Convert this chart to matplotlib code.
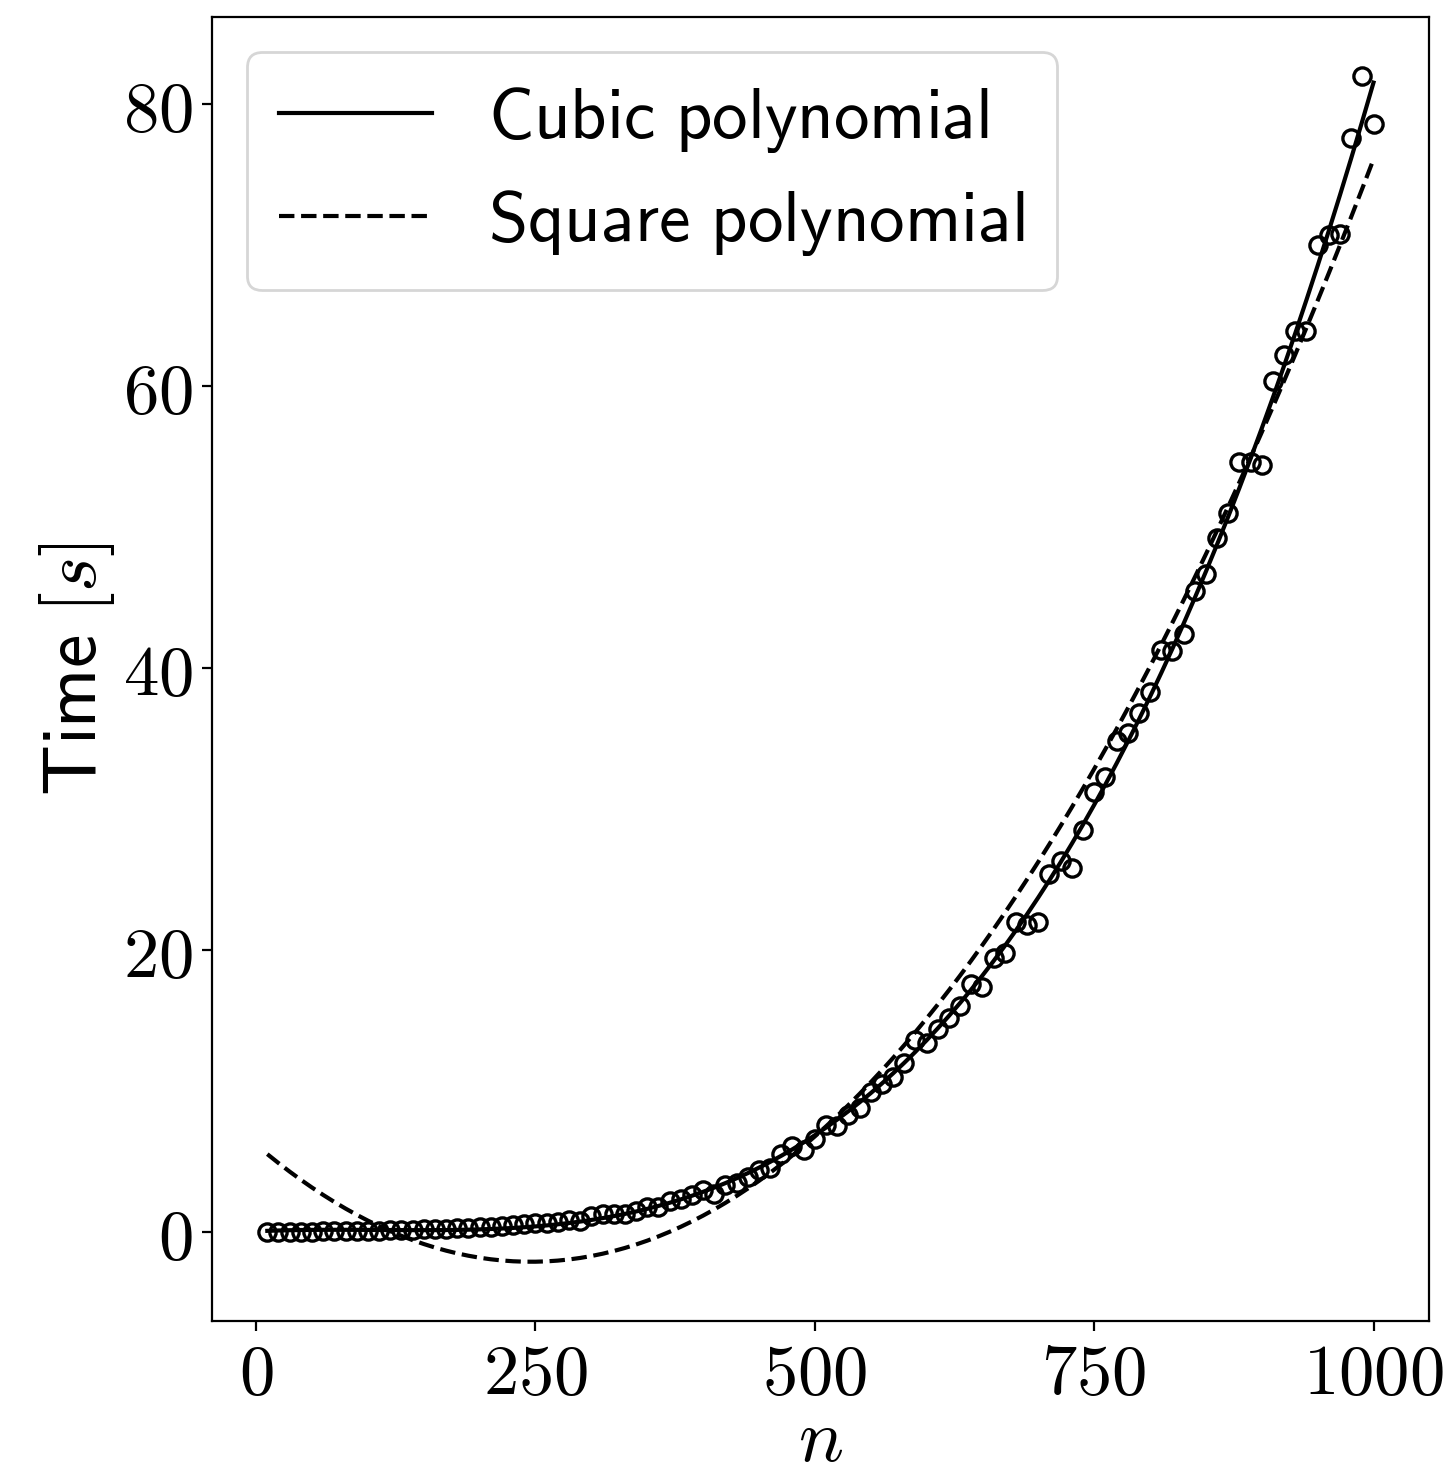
import numpy as np
from matplotlib import pyplot as plt

plt.rcParams['mathtext.fontset'] = 'cm'

# measured run times, n = 10, 20, ..., 1000
n = list(range(10, 1001, 10))
times = [0.0, 0.0, 0.01, 0.01, 0.02, 0.03, 0.04, 0.05, 0.06, 0.08,
         0.10, 0.12, 0.14, 0.16, 0.18, 0.20, 0.22, 0.25, 0.28, 0.32,
         0.36, 0.42, 0.50, 0.55, 0.60, 0.64, 0.70, 0.85, 0.80, 1.1,
         1.3, 1.3, 1.3, 1.5, 1.8, 1.8, 2.2, 2.3, 2.6, 3.0,
         2.7, 3.3, 3.5, 3.9, 4.4, 4.5, 5.5, 6.1, 5.8, 6.6,
         7.6, 7.5, 8.3, 8.8, 9.9, 10.5, 11.0, 12.0, 13.6, 13.4,
         14.4, 15.2, 16.0, 17.6, 17.4, 19.4, 19.8, 22.0, 21.8, 22.0,
         25.4, 26.3, 25.8, 28.5, 31.2, 32.3, 34.8, 35.4, 36.8, 38.3,
         41.3, 41.2, 42.4, 45.5, 46.7, 49.2, 51.0, 54.6, 54.6, 54.4,
         60.4, 62.2, 63.9, 63.9, 70.0, 70.7, 70.8, 77.6, 82.0, 78.6]

tick_x = [0, 250, 500, 750, 1000]
tick_y = [0, 20, 40, 60, 80]

x = np.array(n, dtype=float)
y = np.array(times)

# least squares fits
cubic = np.polyval(np.polyfit(x, y, 3), x)
square = np.polyval(np.polyfit(x, y, 2), x)

fig = plt.figure(figsize=(7.275, 7.365), dpi=200)
ax = fig.add_axes([0.1457, 0.1032, 0.8363, 0.8853])

ax.plot(x, y, 'o', markerfacecolor='none', markeredgecolor='k',
        markersize=6.2, markeredgewidth=1.2)
ax.plot(x, cubic, 'k-', linewidth=1.5, label=r'$\mathsf{Cubic\ polynomial}$')
ax.plot(x, square, 'k--', linewidth=1.5, label=r'$\mathsf{Square\ polynomial}$')

ax.set_xticks(tick_x)
ax.set_xticklabels(['$' + str(t) + '$' for t in tick_x])
ax.set_yticks(tick_y)
ax.set_yticklabels(['$' + str(t) + '$' for t in tick_y])
ax.tick_params(labelsize=25.5)

ax.set_xlabel(r'$n$', fontsize=27, labelpad=-2)
ax.set_ylabel(r'$\mathsf{Time}\ [s]$', fontsize=27, labelpad=2)

ax.legend(loc='upper left', fontsize=25.5, handlelength=2.15,
          labelspacing=0.45, borderpad=0.45)

plt.savefig('out.png', dpi=200)
